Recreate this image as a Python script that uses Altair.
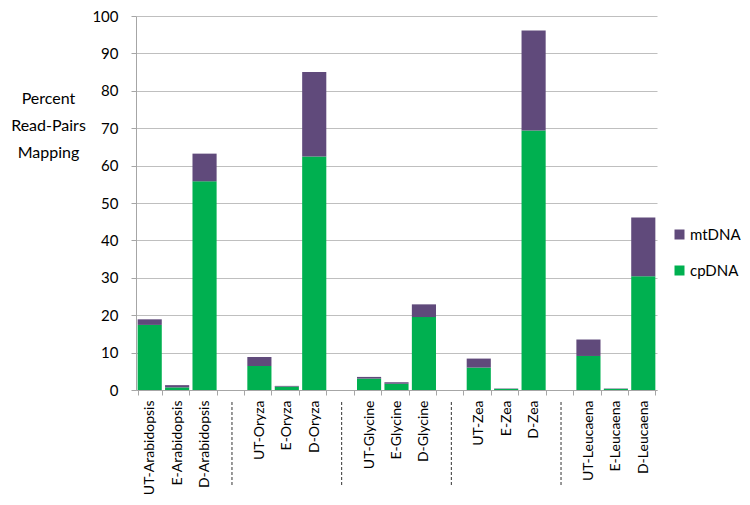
import altair as alt
import pandas as pd

slots = ["UT-Arabidopsis", "E-Arabidopsis", "D-Arabidopsis", "gap1",
         "UT-Oryza", "E-Oryza", "D-Oryza", "gap2",
         "UT-Glycine", "E-Glycine", "D-Glycine", "gap3",
         "UT-Zea", "E-Zea", "D-Zea", "gap4",
         "UT-Leucaena", "E-Leucaena", "D-Leucaena"]
samples = [s for s in slots if not s.startswith("gap")]
gaps = [s for s in slots if s.startswith("gap")]
cpDNA = [17.4, 0.7, 55.8, 6.4, 0.9, 62.4, 3.05, 1.7, 19.5, 6.0, 0.3, 69.4, 9.1, 0.3, 30.4]
mtDNA = [1.5, 0.6, 7.4, 2.4, 0.2, 22.6, 0.45, 0.35, 3.4, 2.4, 0.1, 26.7, 4.4, 0.1, 15.7]
series = ["mtDNA", "cpDNA"]
colors = ["#604A7B", "#00B050"]

rows = []
for s, c, m in zip(samples, cpDNA, mtDNA):
    rows.append({"sample": s, "series": "cpDNA", "value": c, "ord": 0})
    rows.append({"sample": s, "series": "mtDNA", "value": m, "ord": 1})
df = pd.DataFrame(rows)
gap_df = pd.DataFrame({"sample": gaps})

W, H = 521, 374
FONT = "Lato"

x = alt.X("sample:N", sort=slots,
          scale=alt.Scale(domain=slots, paddingInner=0.12, paddingOuter=0.06),
          axis=alt.Axis(title=None, labelAngle=-90, labelFontSize=14, labelFont=FONT,
                        labelColor="#000000", labelPadding=5, tickBand="extent",
                        tickSize=5, tickColor="#a6a6a6", domainColor="#a6a6a6",
                        labelExpr="indexof(datum.label, 'gap') === 0 ? '' : datum.label"))

bars = alt.Chart(df).mark_bar().encode(
    x=x,
    y=alt.Y("value:Q", stack="zero",
            scale=alt.Scale(domain=[0, 100]),
            axis=alt.Axis(values=list(range(0, 101, 10)), grid=True, gridColor="#bfbfbf",
                          domainColor="#a6a6a6", tickColor="#a6a6a6", tickSize=5,
                          labelFontSize=15, labelFont=FONT, labelColor="#000000",
                          labelPadding=13,
                          title=["Percent", "Read-Pairs", "Mapping"],
                          titleAngle=0, titleFontSize=16, titleFont=FONT,
                          titleFontWeight="normal", titleColor="#000000",
                          titleAlign="center", titleBaseline="middle",
                          titleX=-88, titleY=82, titleLineHeight=27)),
    color=alt.Color("series:N", scale=alt.Scale(domain=series, range=colors),
                    legend=alt.Legend(title=None, orient="none", legendX=536, legendY=211,
                                      symbolType="square", symbolSize=100,
                                      symbolStrokeWidth=0, labelFontSize=15,
                                      labelFont=FONT, labelColor="#000000",
                                      rowPadding=20, labelOffset=3)),
    order=alt.Order("ord:Q"),
)

seps = alt.Chart(gap_df).mark_rule(strokeDash=[3, 2], color="#333333", strokeWidth=1).encode(
    x=alt.X("sample:N", sort=slots),
    y=alt.value(H + 12),
    y2=alt.value(H + 97),
)

chart = alt.layer(bars, seps).properties(
    width=W, height=H,
    autosize=alt.AutoSizeParams(type="none"),
    padding={"left": 128, "top": 8, "right": 84, "bottom": 105},
).configure_view(stroke=None)

chart.save("out.html", embed_options={"renderer": "svg", "actions": False})
